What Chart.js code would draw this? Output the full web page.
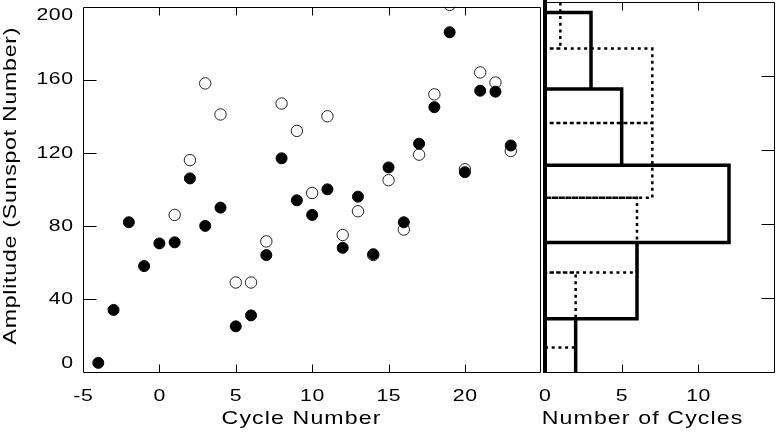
<!DOCTYPE html>
<html>
<head>
    <title>Sunspot Cycle Amplitudes</title>
    <script src='https://cdn.jsdelivr.net/npm/chart.js'></script>
    <style>
        html, body { margin: 0; padding: 0; background: #fff; }
        #wrap { position: relative; width: 776px; height: 433px; overflow: hidden; background: #fff; }
        #scatterChart { position: absolute; left: 0; top: 0; }
        #histChart { position: absolute; left: 520px; top: 0; }
    </style>
</head>
<body>
    <div id="wrap">
        <canvas id="scatterChart" width="548" height="433"></canvas>
        <canvas id="histChart" width="256" height="433"></canvas>
    </div>

    <script>
        // filled circles: cycles -4..23
        const filledCycles = [-4, -3, -2, -1, 0, 1, 2, 3, 4, 5, 6, 7, 8, 9, 10, 11, 12, 13, 14, 15, 16, 17, 18, 19, 20, 21, 22, 23];
        const filledAmp = [5, 34, 82, 58, 70.4, 71, 106, 80, 90, 25, 31, 64, 117, 94, 86, 100, 68, 96, 64.5, 112, 82, 125, 145, 186, 109.4, 154, 153.5, 124];

        // open circles: cycles 1..23
        const openCycles = [1, 2, 3, 4, 5, 6, 7, 8, 9, 10, 11, 12, 13, 14, 15, 16, 17, 18, 19, 20, 21, 22, 23];
        const openAmp = [86, 116, 158, 141, 49, 49, 71.5, 147, 132, 98, 140, 75, 88, 64, 105, 78, 119, 152, 201, 111, 164, 158.5, 121];

        // histograms (amplitude bin edges and number of cycles per bin)
        const filledEdges = [-12.5, 28.8, 70, 111.7, 153, 194.3];
        const filledCounts = [2, 6, 12, 5, 3];
        const openEdges = [13.3, 53.8, 94.2, 134.6, 174.8, 215.2];
        const openCounts = [2, 6, 7, 7, 1];

        const ampTicks = [0, 40, 80, 120, 160, 200];
        const cycleTicks = [-5, 0, 5, 10, 15, 20];
        const countTicks = [0, 5, 10];

        const FONT = '"Liberation Sans", Arial, Helvetica, sans-serif';
        const STRETCH = 1.25;   // the original lettering is wide

        function points(xs, ys) {
            return xs.map((x, i) => ({ x: x, y: ys[i] }));
        }

        // each bar as a rectangle outline from 0 to its count
        function outline(edges, counts) {
            const pts = [];
            counts.forEach((c, i) => {
                pts.push({ x: 0, y: edges[i] }, { x: c, y: edges[i] },
                         { x: c, y: edges[i + 1] }, { x: 0, y: edges[i + 1] });
            });
            return pts;
        }

        function text(ctx, str, x, y, size, spacing, align) {
            ctx.save();
            ctx.translate(x, y);
            ctx.scale(STRETCH, 1);
            ctx.font = size + 'px ' + FONT;
            ctx.letterSpacing = spacing + 'px';
            ctx.textAlign = align || 'center';
            ctx.textBaseline = 'middle';
            const shift = align === 'right' ? spacing : (align === 'left' ? 0 : spacing / 2);
            ctx.fillText(str, shift, 0);
            ctx.restore();
        }

        // box, inward ticks, tick labels and titles
        function decor(cfg) {
            return {
                id: 'decor',
                afterDatasetsDraw(chart) {
                    const { ctx, chartArea: a } = chart;
                    const sx = chart.scales.x, sy = chart.scales.y;
                    const T = Math.round(a.top) + 0.5, B = Math.round(a.bottom) + 0.5;
                    const L = Math.round(a.left) + 0.5, R = Math.round(a.right) - 0.5;
                    ctx.save();
                    ctx.strokeStyle = '#000';
                    ctx.lineWidth = 1;
                    ctx.beginPath();
                    ctx.moveTo(L, T); ctx.lineTo(R, T); ctx.lineTo(R, B); ctx.lineTo(L, B); ctx.closePath();
                    cfg.xTicks.forEach(v => {
                        if (v <= sx.min || v >= sx.max) return;
                        const px = Math.round(sx.getPixelForValue(v)) + 0.5;
                        ctx.moveTo(px, B); ctx.lineTo(px, B - 8);
                        ctx.moveTo(px, T); ctx.lineTo(px, T + 8);
                    });
                    ampTicks.forEach(v => {
                        if (v <= sy.min || v >= sy.max) return;
                        const py = Math.round(sy.getPixelForValue(v)) + 0.5;
                        if (cfg.ySide === 'left') { ctx.moveTo(L, py); ctx.lineTo(L + 13, py); }
                        else { ctx.moveTo(R, py); ctx.lineTo(R - 13, py); }
                    });
                    ctx.stroke();

                    if (cfg.thickZero) {
                        const px = sx.getPixelForValue(0);
                        ctx.fillStyle = '#000';
                        ctx.fillRect(px - 2, 0, 4, a.bottom + 1);
                    }

                    ctx.fillStyle = '#000';
                    cfg.xLabels.forEach(v => {
                        text(ctx, String(v), sx.getPixelForValue(v), 396, 17, 0.4);
                    });
                    if (cfg.yLabels) {
                        ampTicks.forEach(v => {
                            let py = sy.getPixelForValue(v);
                            py = Math.min(Math.max(py, a.top + 9), a.bottom - 9);
                            text(ctx, String(v), 73, py, 17, 0.4, 'right');
                        });
                    }
                    text(ctx, cfg.xTitle, cfg.xTitleX, 419, 18.5, 0.9);
                    if (cfg.yTitle) {
                        ctx.save();
                        ctx.translate(11, 186);
                        ctx.rotate(-Math.PI / 2);
                        text(ctx, cfg.yTitle, 0, 0, 18.5, 0.6);
                        ctx.restore();
                    }
                    ctx.restore();
                }
            };
        }

        function axis(min, max, fit) {
            return {
                type: 'linear', min: min, max: max,
                ticks: { display: false },
                grid: { display: false, drawTicks: false },
                border: { display: false },
                afterFit: fit
            };
        }

        new Chart(document.getElementById('scatterChart'), {
            type: 'scatter',
            data: {
                datasets: [{
                    label: 'Filled',
                    data: points(filledCycles, filledAmp),
                    pointRadius: 5.5,
                    pointBackgroundColor: '#000',
                    pointBorderColor: '#000',
                    pointBorderWidth: 1
                }, {
                    label: 'Open',
                    data: points(openCycles, openAmp),
                    pointRadius: 5.7,
                    pointBackgroundColor: 'rgba(255,255,255,0)',
                    pointBorderColor: '#222',
                    pointBorderWidth: 1
                }]
            },
            options: {
                responsive: false,
                animation: false,
                events: [],
                layout: { padding: { left: 0, top: 2, right: 3, bottom: 0 } },
                plugins: { legend: { display: false }, tooltip: { enabled: false } },
                scales: {
                    x: axis(-5, 25, s => { s.height = 61; s.paddingLeft = 0; s.paddingRight = 0; }),
                    y: axis(0, 200, s => { s.width = 83; s.paddingTop = 0; s.paddingBottom = 0; })
                }
            },
            plugins: [decor({
                xTicks: cycleTicks, xLabels: cycleTicks, ySide: 'left', yLabels: true,
                xTitle: 'Cycle Number', xTitleX: 301, yTitle: 'Amplitude (Sunspot Number)'
            })]
        });

        new Chart(document.getElementById('histChart'), {
            type: 'scatter',
            data: {
                datasets: [{
                    label: 'Filled cycles',
                    data: outline(filledEdges, filledCounts),
                    showLine: true,
                    pointRadius: 0,
                    borderColor: '#000',
                    borderWidth: 3.5,
                    borderJoinStyle: 'miter'
                }, {
                    label: 'Open cycles',
                    data: outline(openEdges, openCounts),
                    showLine: true,
                    pointRadius: 0,
                    borderColor: '#000',
                    borderWidth: 2.5,
                    borderDash: [3, 3.7],
                    borderCapStyle: 'butt'
                }]
            },
            options: {
                responsive: false,
                animation: false,
                events: [],
                layout: { padding: { left: 0, top: 2, right: 1, bottom: 0 } },
                plugins: { legend: { display: false }, tooltip: { enabled: false } },
                scales: {
                    x: axis(0, 15, s => { s.height = 61; s.paddingLeft = 0; s.paddingRight = 0; }),
                    y: axis(0, 200, s => { s.width = 25; s.paddingTop = 0; s.paddingBottom = 0; })
                }
            },
            plugins: [decor({
                xTicks: countTicks, xLabels: countTicks, ySide: 'right', yLabels: false,
                thickZero: true, xTitle: 'Number of Cycles', xTitleX: 122
            })]
        });
    </script>
</body>
</html>
